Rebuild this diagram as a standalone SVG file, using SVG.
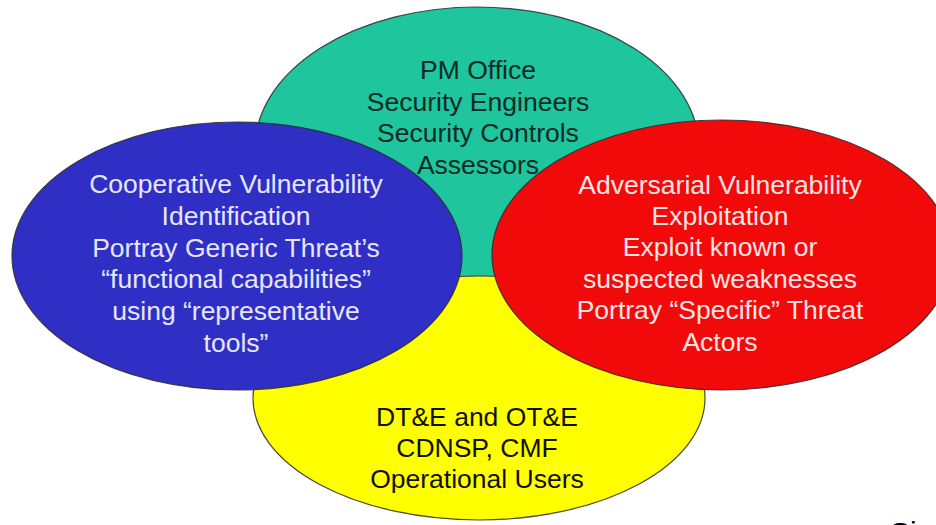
<svg xmlns="http://www.w3.org/2000/svg" width="936" height="525" viewBox="0 0 936 525">
  <style>
    .shape { stroke: #2a2a2a; stroke-width: 1.2; stroke-opacity: 0.85; }
    .label { font-family: "Liberation Sans", Arial, sans-serif; font-size: 26.5px; text-anchor: middle; }
    .dark { fill: #0f2a24; }
    .ink { fill: #111100; }
    .light-blue { fill: #e6e6ff; }
    .light-red { fill: #ffe4e4; }
  </style>
  <rect width="936" height="525" fill="#ffffff"/>

  <!-- Top circle: program office and engineering -->
  <g id="node-pm-office">
    <ellipse class="shape" cx="477" cy="148" rx="222" ry="141" fill="#1ec59d"/>
  </g>

  <!-- Bottom circle: test and evaluation community -->
  <g id="node-test-eval">
    <ellipse class="shape" cx="479" cy="398" rx="226" ry="122" fill="#ffff00"/>
    <g class="label ink">
      <text x="477" y="426">DT&amp;E and OT&amp;E</text>
      <text x="477" y="457">CDNSP, CMF</text>
      <text x="477" y="488">Operational Users</text>
    </g>
  </g>

  <!-- Left circle: cooperative assessment -->
  <g id="node-cooperative">
    <ellipse class="shape" cx="237" cy="256" rx="225" ry="134" fill="#2f2fc6"/>
    <g class="label light-blue">
      <text x="236" y="193">Cooperative Vulnerability</text>
      <text x="236" y="225">Identification</text>
      <text x="236" y="257">Portray Generic Threat’s</text>
      <text x="236" y="288">“functional capabilities”</text>
      <text x="236" y="320">using “representative</text>
      <text x="236" y="352">tools”</text>
    </g>
  </g>

  <!-- Right circle: adversarial assessment -->
  <g id="node-adversarial">
    <ellipse class="shape" cx="722" cy="255" rx="230" ry="135" fill="#f20a0a"/>
    <g class="label light-red">
      <text x="720" y="194">Adversarial Vulnerability</text>
      <text x="720" y="225">Exploitation</text>
      <text x="720" y="256">Exploit known or</text>
      <text x="720" y="288">suspected weaknesses</text>
      <text x="720" y="319">Portray “Specific” Threat</text>
      <text x="720" y="351">Actors</text>
    </g>
  </g>

  <!-- Top circle labels drawn above the overlapping shapes -->
  <g id="label-pm-office" class="label dark">
    <text x="478" y="79">PM Office</text>
    <text x="478" y="111">Security Engineers</text>
    <text x="478" y="142">Security Controls</text>
    <text x="478" y="174">Assessors</text>
  </g>

  <!-- No connectors in this diagram -->
  <g id="connectors"></g>

  <text x="890" y="543" font-family="'Liberation Sans', Arial, sans-serif" font-size="30" fill="#000000">Si</text>
</svg>
